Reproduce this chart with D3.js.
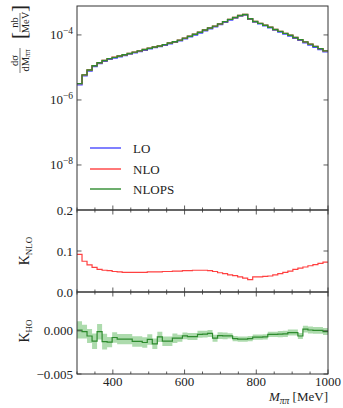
<!DOCTYPE html>
<html><head><meta charset="utf-8">
<script src="https://cdn.jsdelivr.net/npm/d3@7"></script>
<style>
html,body{margin:0;padding:0;background:#fff;}
svg text{font-family:"Liberation Serif","DejaVu Serif",serif;}
</style></head>
<body><svg id="c" width="343" height="408"></svg>
<script>
// ---- data ----
const binLow = [300,314,328,342,356,370,384,398,412,426,440,454,468,482,496,510,524,538,552,566,
  580,594,608,622,636,650,664,678,692,706,720,734,748,762,776,790,804,818,832,846,
  860,874,888,902,916,930,944,958,972,986];
const binHigh = 1000;
const loVals = [2.9e-6,5.5e-6,7.8e-6,1.07e-5,1.32e-5,1.55e-5,1.78e-5,1.95e-5,2.14e-5,2.34e-5,
  2.57e-5,2.82e-5,3.09e-5,3.39e-5,3.72e-5,4.07e-5,4.37e-5,4.79e-5,5.37e-5,5.89e-5,
  6.6e-5,7.6e-5,8.7e-5,1.0e-4,1.15e-4,1.35e-4,1.55e-4,1.78e-4,2.09e-4,2.45e-4,
  2.88e-4,3.31e-4,3.8e-4,4.12e-4,3.05e-4,2.51e-4,2.19e-4,1.91e-4,1.66e-4,1.41e-4,
  1.23e-4,1.07e-4,9.3e-5,7.9e-5,6.8e-5,5.75e-5,4.9e-5,4.17e-5,3.55e-5,3.02e-5];
const nloVals = [3.17e-6,5.91e-6,8.31e-6,1.134e-5,1.393e-5,1.632e-5,1.873e-5,2.048e-5,2.245e-5,2.452e-5,
  2.693e-5,2.955e-5,3.238e-5,3.553e-5,3.902e-5,4.269e-5,4.584e-5,5.03e-5,5.64e-5,6.19e-5,
  6.94e-5,8.0e-5,9.15e-5,1.053e-4,1.211e-4,1.422e-4,1.631e-4,1.869e-4,2.188e-4,2.56e-4,
  3.0e-4,3.44e-4,3.94e-4,4.26e-4,3.14e-4,2.6e-4,2.27e-4,1.98e-4,1.72e-4,1.47e-4,
  1.285e-4,1.12e-4,9.78e-5,8.33e-5,7.19e-5,6.1e-5,5.21e-5,4.45e-5,3.8e-5,3.24e-5];
const nlopsVals = [3.17e-6,5.92e-6,8.31e-6,1.133e-5,1.393e-5,1.631e-5,1.872e-5,2.047e-5,2.244e-5,2.451e-5,
  2.692e-5,2.954e-5,3.237e-5,3.552e-5,3.901e-5,4.268e-5,4.584e-5,5.029e-5,5.64e-5,6.19e-5,
  6.94e-5,8.0e-5,9.15e-5,1.053e-4,1.211e-4,1.422e-4,1.631e-4,1.869e-4,2.188e-4,2.56e-4,
  3.0e-4,3.44e-4,3.94e-4,4.26e-4,3.14e-4,2.6e-4,2.27e-4,1.98e-4,1.72e-4,1.47e-4,
  1.285e-4,1.12e-4,9.78e-5,8.33e-5,7.19e-5,6.1e-5,5.21e-5,4.45e-5,3.8e-5,3.24e-5];
const kNLO = [0.092,0.075,0.066,0.060,0.055,0.053,0.052,0.050,0.049,0.048,
  0.048,0.048,0.048,0.048,0.049,0.049,0.049,0.050,0.050,0.051,
  0.051,0.052,0.052,0.053,0.053,0.053,0.052,0.050,0.047,0.045,
  0.042,0.040,0.037,0.034,0.030,0.037,0.037,0.038,0.039,0.042,
  0.045,0.048,0.051,0.055,0.058,0.061,0.064,0.067,0.070,0.073];
const kHO = [0.0001,-0.0001,-0.0006,-0.0012,-0.0001,-0.00125,-0.0013,-0.00077,-0.00096,-0.00096,
  -0.00096,-0.00123,-0.00123,-0.00135,-0.0010,-0.0015,-0.0007,-0.0012,-0.0012,-0.00085,
  -0.00085,-0.00058,-0.00066,-0.00066,-0.0004,-0.00038,-0.0003,-0.00085,-0.00055,-0.00058,
  -0.00058,-0.0009,-0.00096,-0.00096,-0.0009,-0.00073,-0.00073,-0.0007,-0.0004,-0.0004,
  -0.00038,-0.00035,-0.0002,-0.0002,-0.0006,0.0002,0.0001,0.00005,0.00005,-0.00008];
const kHOerr = [0.0010,0.0008,0.0008,0.0009,0.0009,0.0009,0.0006,0.0006,0.0006,0.0006,
  0.0006,0.0006,0.0006,0.0006,0.0006,0.0006,0.0006,0.00055,0.00055,0.00055,
  0.0004,0.0004,0.0004,0.0004,0.0004,0.0004,0.0004,0.0004,0.0004,0.0004,
  0.0003,0.0003,0.0003,0.0003,0.0003,0.0003,0.0003,0.0003,0.0003,0.0003,
  0.00035,0.00035,0.00035,0.00035,0.00035,0.0004,0.0004,0.0004,0.0004,0.0004];
const xTicks = [400,600,800,1000];
const xMinor = [300,350,400,450,500,550,600,650,700,750,800,850,900,950,1000];
const topTicks = [1e-4,1e-6,1e-8];
const topTickExp = ["−4","−6","−8"];
const midTicks = [0.0,0.1,0.2];
const midTickLabels = ["0.0","0.1","0.2"];
const botTicks = [0.0,-0.005];
const botTickLabels = ["0.000","−0.005"];
const series = ["LO","NLO","NLOPS"];
const colors = {LO:"#4a4aff", NLO:"#ff4040", NLOPS:"#2e8b2e"};

// ---- layout ----
const FONT = "'Liberation Serif','DejaVu Serif',serif";
const svg = d3.select("#c").attr("font-family",FONT);
const X0 = 77, X1 = 328;
const x = d3.scaleLinear().domain([300,1000]).range([X0,X1]);
const yTop = d3.scaleLog().domain([Math.pow(10,-9.385), Math.pow(10,-3.11)]).range([210,6]);
const yMid = d3.scaleLinear().domain([0,0.2]).range([292,210]);
const yBot = d3.scaleLinear().domain([-0.005,0.0045]).range([374,292]);
const frame = "#333";
const fs = 13;

function txt(sel){ return sel.append("text").attr("font-family",FONT).attr("fill","#222"); }

function clip(id, y0, y1){
  svg.append("clipPath").attr("id",id).append("rect")
    .attr("x",X0).attr("y",y0).attr("width",X1-X0).attr("height",y1-y0);
}
clip("cTop",6,210); clip("cMid",210,292); clip("cBot",292,374);

function stepData(vals){
  const d = binLow.map((b,i)=>({x:b, v:vals[i]}));
  d.push({x:binHigh, v:vals[vals.length-1]});
  return d;
}

// top panel
const gTop = svg.append("g").attr("clip-path","url(#cTop)");
const lineTop = d3.line().x(d=>x(d.x)).y(d=>yTop(d.v)).curve(d3.curveStepAfter);
[["LO",loVals],["NLO",nloVals],["NLOPS",nlopsVals]].forEach(([k,v])=>{
  gTop.append("path").attr("d",lineTop(stepData(v))).attr("fill","none")
    .attr("stroke",colors[k]).attr("stroke-width",1.4);
});

// middle panel
const gMid = svg.append("g").attr("clip-path","url(#cMid)");
gMid.append("path").attr("d", d3.line().x(d=>x(d.x)).y(d=>yMid(d.v)).curve(d3.curveStepAfter)(stepData(kNLO)))
  .attr("fill","none").attr("stroke",colors.NLO).attr("stroke-width",1.2);

// bottom panel
const gBot = svg.append("g").attr("clip-path","url(#cBot)");
const bandD = binLow.map((b,i)=>({x:b, lo:kHO[i]-kHOerr[i], hi:kHO[i]+kHOerr[i]}));
bandD.push({x:binHigh, lo:bandD[bandD.length-1].lo, hi:bandD[bandD.length-1].hi});
gBot.append("path").attr("d", d3.area().x(d=>x(d.x)).y0(d=>yBot(d.lo)).y1(d=>yBot(d.hi)).curve(d3.curveStepAfter)(bandD))
  .attr("fill","#49b049").attr("fill-opacity",0.45).attr("stroke","none");
gBot.append("path").attr("d", d3.line().x(d=>x(d.x)).y(d=>yBot(d.v)).curve(d3.curveStepAfter)(stepData(kHO)))
  .attr("fill","none").attr("stroke",colors.NLOPS).attr("stroke-width",1.2);

// frames
[[6,210],[210,292],[292,374]].forEach(([a,b])=>{
  svg.append("rect").attr("x",X0).attr("y",a).attr("width",X1-X0).attr("height",b-a)
    .attr("fill","none").attr("stroke",frame).attr("stroke-width",1);
});

// x ticks (inward) at panel edges
function xTickRow(yy, dir){
  xMinor.forEach(t=>{
    const len = (t%200===0) ? 4.5 : 2.5;
    svg.append("line").attr("x1",x(t)).attr("x2",x(t)).attr("y1",yy).attr("y2",yy+dir*len)
      .attr("stroke",frame).attr("stroke-width",0.8);
  });
}
xTickRow(210,-1); xTickRow(210,1); xTickRow(292,-1); xTickRow(292,1); xTickRow(374,-1);

// y ticks
function yTick(yy){
  svg.append("line").attr("x1",X0).attr("x2",X0+4.5).attr("y1",yy).attr("y2",yy).attr("stroke",frame).attr("stroke-width",0.8);
  svg.append("line").attr("x1",X1).attr("x2",X1-4.5).attr("y1",yy).attr("y2",yy).attr("stroke",frame).attr("stroke-width",0.8);
}
topTicks.forEach((t,i)=>{
  const yy = yTop(t); yTick(yy);
  const tx = txt(svg).attr("x",X0-4).attr("y",yy+4.5).attr("text-anchor","end").attr("font-size",fs);
  tx.append("tspan").text("10");
  tx.append("tspan").attr("dy",-5.5).attr("font-size",9.5).text(topTickExp[i]);
});
midTicks.forEach((t,i)=>{
  const yy = yMid(t); if(i===1) yTick(yy);
  txt(svg).attr("x",X0-4).attr("y",yy+4.5).attr("text-anchor","end").attr("font-size",fs).text(midTickLabels[i]);
});
botTicks.forEach((t,i)=>{
  const yy = yBot(t); yTick(yy);
  txt(svg).attr("x",X0-4).attr("y",yy+4.5).attr("text-anchor","end").attr("font-size",fs).text(botTickLabels[i]);
});
xTicks.forEach(t=>{
  txt(svg).attr("x",x(t)).attr("y",386).attr("text-anchor","middle").attr("font-size",fs).text(t);
});

// x label
const xl = txt(svg).attr("x",X1).attr("y",401).attr("text-anchor","end").attr("font-size",fs);
xl.append("tspan").attr("font-style","italic").text("M");
xl.append("tspan").attr("font-style","italic").attr("font-size",9.5).attr("dy",2.5).text("ππ");
xl.append("tspan").attr("dy",-2.5).text("  [MeV]");

// top y label (fractions)
const gl = svg.append("g").attr("transform","translate(20,73) rotate(-90)");
txt(gl).attr("x",12.5).attr("y",-2.5).attr("text-anchor","middle").attr("font-size",10.5).text("dσ");
gl.append("line").attr("x1",0).attr("x2",25).attr("y1",0).attr("y2",0).attr("stroke","#222").attr("stroke-width",0.6);
const dn = txt(gl).attr("x",12.5).attr("y",8.5).attr("text-anchor","middle").attr("font-size",10.5);
dn.append("tspan").text("dM");
dn.append("tspan").attr("font-size",7.5).attr("font-style","italic").attr("dy",1.5).text("ππ");
txt(gl).attr("x",34).attr("y",6).attr("font-size",21).text("[");
txt(gl).attr("x",50.5).attr("y",-2.5).attr("text-anchor","middle").attr("font-size",10.5).text("nb");
gl.append("line").attr("x1",41).attr("x2",60).attr("y1",0).attr("y2",0).attr("stroke","#222").attr("stroke-width",0.6);
txt(gl).attr("x",50.5).attr("y",8.5).attr("text-anchor","middle").attr("font-size",10.5).text("MeV");
txt(gl).attr("x",61).attr("y",6).attr("font-size",21).text("]");

// K labels
function kLabel(cy, sub){
  const t = txt(svg).attr("transform",`translate(29,${cy}) rotate(-90)`).attr("text-anchor","middle").attr("font-size",14);
  t.append("tspan").text("K");
  t.append("tspan").attr("font-size",9).attr("dy",2.5).text(sub);
}
kLabel(251,"NLO"); kLabel(331,"HO");

// legend
const legY = [148,169,189];
series.forEach((s,i)=>{
  svg.append("line").attr("x1",90).attr("x2",121).attr("y1",legY[i]).attr("y2",legY[i])
    .attr("stroke",colors[s]).attr("stroke-width",1.4);
  txt(svg).attr("x",133).attr("y",legY[i]+4.5).attr("font-size",fs).text(s);
});
</script></body></html>
